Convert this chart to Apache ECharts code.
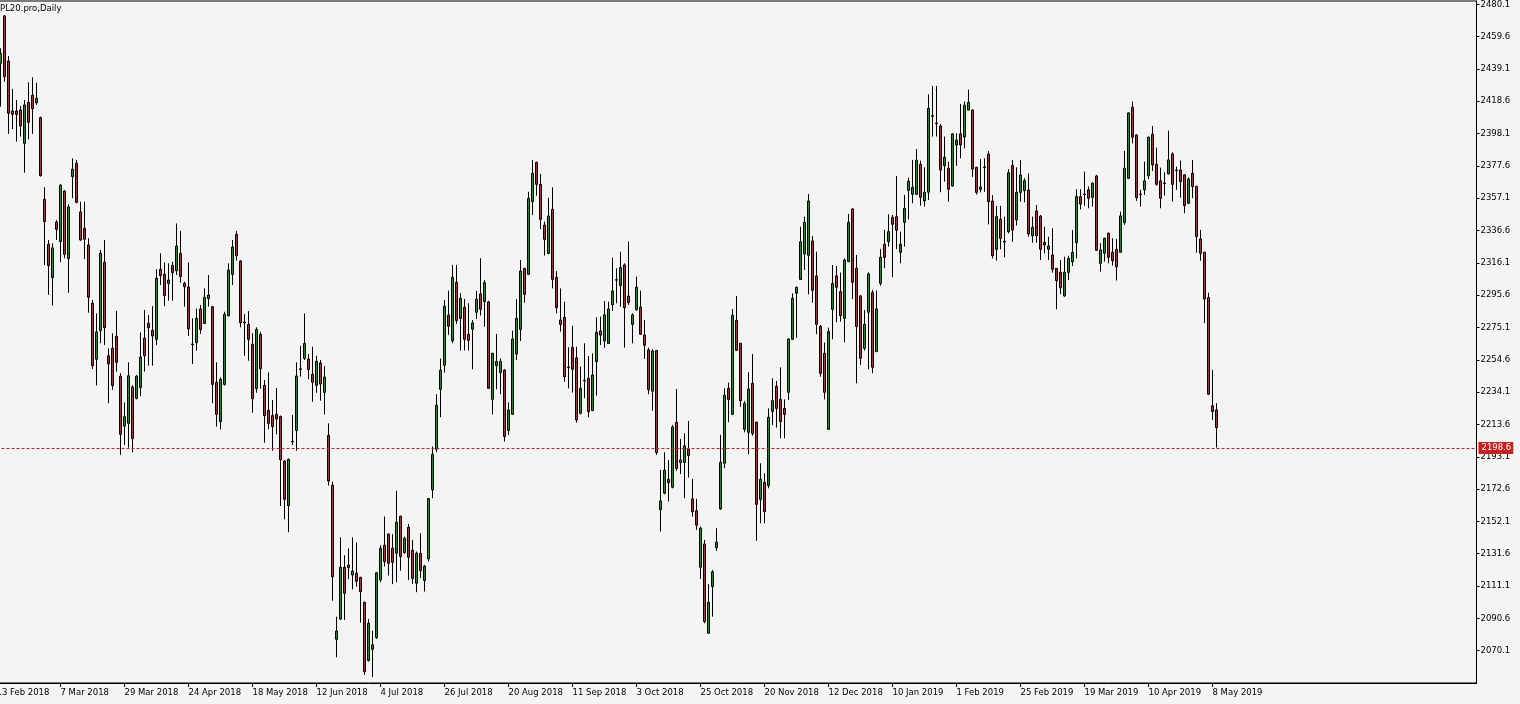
<!DOCTYPE html>
<html><head><meta charset="utf-8">
<script src="https://cdn.jsdelivr.net/npm/echarts@6/dist/echarts.min.js"></script>
<style>html,body{margin:0;padding:0;background:#f4f4f4;}#c{width:1520px;height:704px;}</style>
</head><body><div id="c"></div><script>
// ---- data ----
const symbolTitle = 'PL20.pro,Daily';
const firstDate = [2018, 1, 13];   // 13 Feb 2018 (first category, just left of the view)
const lastDate = [2019, 4, 9];     // 9 May 2019
const holidays = ['2018-03-30','2018-04-02','2018-05-01','2018-05-03','2018-05-31','2018-08-15',
  '2018-11-01','2018-11-12','2018-12-24','2018-12-25','2018-12-26','2018-12-31','2019-01-01',
  '2019-04-19','2019-04-22','2019-05-01','2019-05-03'];
const yTicks = [2070.1,2090.6,2111.1,2131.6,2152.1,2172.6,2193.1,2213.6,2234.1,2254.6,2275.1,
  2295.6,2316.1,2336.6,2357.1,2377.6,2398.1,2418.6,2439.1,2459.6,2480.1];
const lastPrice = 2198.6;

const open = [
2442.7,2472.7,2444.2,2412.4,2412.4,2413.1,2391.9,2417.9,2422.4,2417.7,
2408.2,2356.4,2327.9,2306.7,2342.0,2329.6,2361.7,2318.8,2370.8,2379.3,
2348.4,2338.0,2327.5,2290.5,2255.0,2273.1,2316.5,2257.1,2261.9,2269.5,
2244.2,2212.6,2214.3,2237.3,2230.2,2237.1,2268.4,2277.7,2273.3,2267.6,
2312.0,2308.8,2303.1,2314.5,2311.1,2322.1,2303.1,2300.8,2264.6,2265.5,
2286.8,2277.7,2293.4,2288.3,2240.3,2215.4,2239.0,2282.6,2308.8,2334.2,
2317.3,2278.6,2277.1,2264.4,2236.3,2270.7,2238.4,2222.5,2219.2,2220.0,
2218.7,2190.4,2162.1,2202.9,2209.8,2248.9,2255.5,2255.1,2245.4,2238.4,
2252.6,2233.9,2206.7,2175.0,2077.3,2090.2,2123.0,2124.4,2118.1,2119.2,
2116.6,2100.8,2063.9,2071.0,2078.4,2115.0,2137.0,2144.0,2135.1,2131.9,
2155.4,2132.3,2148.4,2133.8,2112.9,2131.9,2114.6,2128.3,2172.1,2197.9,
2235.9,2251.2,2282.9,2266.6,2303.8,2280.8,2287.9,2270.8,2274.0,2284.8,
2296.4,2291.5,2291.3,2229.5,2250.9,2246.5,2248.1,2209.7,2220.0,2258.3,
2273.9,2312.6,2308.8,2354.9,2379.8,2365.9,2340.1,2322.1,2350.0,2306.9,
2279.9,2281.5,2250.0,2262.5,2255.8,2220.7,2241.6,2242.9,2222.4,2253.4,
2272.9,2266.6,2264.9,2289.6,2305.5,2301.7,2314.8,2295.1,2277.1,2286.4,
2288.1,2270.4,2260.9,2234.7,2260.4,2159.6,2170.0,2178.8,2173.8,2215.0,
2189.4,2189.4,2197.9,2166.4,2158.8,2123.0,2137.8,2081.2,2110.8,2135.5,
2160.0,2189.0,2236.5,2220.0,2279.6,2265.1,2210.5,2208.6,2239.7,2215.0,
2166.1,2176.9,2174.8,2221.9,2237.8,2229.5,2223.8,2234.0,2267.6,2296.8,
2305.6,2321.7,2320.9,2330.0,2307.8,2275.8,2258.7,2210.5,2286.6,2307.8,
2297.8,2280.9,2316.9,2350.3,2312.7,2295.1,2261.9,2284.8,2297.2,2259.8,
2303.1,2327.9,2329.6,2345.0,2345.4,2322.8,2341.8,2362.1,2359.6,2359.6,
2378.6,2355.4,2360.9,2409.5,2404.8,2402.9,2377.8,2376.1,2364.9,2390.9,
2397.9,2396.0,2413.0,2413.0,2376.7,2362.7,2376.9,2385.1,2355.3,2324.7,
2343.7,2329.7,2335.9,2377.9,2343.3,2360.8,2361.9,2362.3,2333.3,2349.0,
2345.8,2329.1,2324.7,2321.1,2312.6,2310.1,2295.1,2310.1,2316.8,2328.9,
2358.1,2359.8,2362.4,2357.7,2371.2,2315.8,2322.2,2334.9,2322.8,2324.7,
2322.8,2341.6,2369.7,2414.8,2397.2,2359.8,2362.4,2371.4,2397.7,2378.6,
2368.1,2366.8,2372.5,2385.2,2375.0,2375.0,2371.9,2353.9,2372.9,2364.5,
2331.3,2322.8,2294.1,2225.4,2222.8];
const high = [
2452.2,2473.3,2447.3,2426.4,2419.4,2415.6,2419.4,2430.6,2433.8,2430.4,
2408.9,2364.0,2330.6,2328.5,2343.3,2366.1,2362.3,2353.3,2382.4,2381.4,
2354.9,2354.9,2331.7,2292.6,2284.1,2324.3,2330.6,2261.9,2271.4,2285.6,
2246.1,2227.6,2253.0,2238.6,2245.0,2272.0,2286.2,2283.0,2288.7,2312.0,
2322.1,2316.4,2315.8,2316.8,2341.1,2336.3,2304.1,2316.4,2280.9,2287.2,
2289.4,2299.9,2308.4,2288.7,2253.0,2243.5,2285.1,2315.8,2330.6,2336.3,
2317.9,2283.6,2285.5,2271.4,2275.2,2272.4,2241.8,2246.6,2229.1,2236.7,
2219.2,2191.0,2191.9,2219.6,2253.0,2263.5,2284.0,2258.3,2262.9,2257.2,
2254.5,2250.6,2214.3,2177.3,2091.7,2142.0,2130.6,2135.0,2142.0,2138.8,
2117.0,2101.2,2090.3,2082.7,2119.9,2137.0,2155.2,2144.6,2144.0,2171.5,
2155.8,2142.5,2150.5,2140.4,2133.0,2144.6,2124.5,2167.0,2199.6,2232.8,
2255.4,2292.6,2298.5,2314.8,2314.8,2296.8,2293.2,2290.5,2279.9,2298.3,
2319.0,2305.2,2292.1,2259.1,2271.0,2255.5,2248.6,2227.6,2273.1,2293.0,
2317.9,2313.0,2361.2,2381.3,2380.3,2372.5,2342.2,2357.4,2364.0,2310.9,
2299.9,2291.5,2262.5,2276.1,2262.9,2250.3,2265.1,2257.0,2258.7,2281.5,
2282.0,2291.9,2291.5,2319.4,2312.7,2323.2,2315.8,2329.6,2284.1,2307.4,
2298.5,2279.9,2262.3,2261.3,2260.9,2184.8,2196.0,2191.1,2213.3,2236.1,
2204.4,2208.0,2215.8,2179.1,2166.4,2148.8,2140.4,2112.3,2121.3,2147.8,
2207.0,2236.5,2240.1,2286.8,2295.1,2265.1,2228.5,2246.7,2258.3,2215.4,
2189.0,2182.6,2223.8,2242.9,2241.2,2249.8,2229.5,2268.2,2296.8,2301.0,
2339.0,2345.4,2359.8,2333.1,2323.2,2276.7,2265.5,2275.0,2314.7,2314.1,
2309.9,2319.0,2347.1,2350.7,2321.1,2295.7,2286.2,2310.1,2298.9,2298.5,
2324.9,2337.0,2346.9,2346.5,2371.2,2335.9,2359.2,2370.2,2381.4,2388.3,
2380.9,2376.7,2423.0,2428.3,2428.3,2404.2,2396.2,2380.3,2398.3,2398.3,
2416.9,2418.4,2426.0,2413.4,2377.1,2381.9,2382.4,2387.0,2359.1,2352.3,
2352.3,2345.4,2375.6,2381.3,2376.7,2381.3,2369.7,2372.8,2345.4,2352.8,
2346.4,2339.0,2332.7,2338.0,2312.6,2317.9,2320.0,2320.6,2336.9,2362.7,
2362.9,2374.0,2364.5,2367.0,2371.9,2328.5,2332.1,2335.3,2331.7,2331.3,
2348.6,2387.1,2411.6,2418.4,2397.7,2362.4,2380.3,2396.2,2402.9,2389.2,
2376.5,2373.6,2400.0,2386.2,2377.1,2381.0,2372.3,2370.4,2381.4,2365.1,
2337.0,2323.2,2297.2,2248.2,2227.1];
const low = [
2415.2,2431.0,2397.9,2401.0,2393.0,2396.2,2373.3,2394.5,2397.9,2416.3,
2370.8,2314.8,2295.8,2289.0,2330.6,2316.5,2319.0,2297.2,2357.1,2353.9,
2330.0,2318.4,2284.5,2248.8,2238.3,2265.1,2264.0,2227.0,2235.5,2247.1,
2194.3,2200.6,2198.9,2195.9,2229.5,2231.6,2247.1,2250.9,2250.9,2264.0,
2302.0,2288.7,2292.1,2292.1,2308.4,2303.5,2288.3,2269.7,2251.9,2260.4,
2271.0,2277.3,2288.3,2227.0,2212.2,2210.5,2238.2,2282.0,2302.0,2317.5,
2275.2,2257.2,2254.0,2221.1,2233.7,2236.3,2202.0,2210.5,2196.9,2207.3,
2161.9,2153.4,2145.2,2200.5,2196.9,2243.9,2254.5,2242.2,2228.0,2233.7,
2228.7,2220.0,2174.8,2101.8,2065.9,2089.6,2089.6,2115.4,2109.0,2110.7,
2087.9,2054.7,2063.2,2053.3,2077.6,2113.5,2123.5,2117.8,2112.3,2113.5,
2120.9,2131.5,2115.0,2112.3,2107.2,2116.1,2107.6,2126.6,2166.8,2196.0,
2218.2,2246.5,2270.4,2265.1,2277.4,2260.5,2260.5,2260.5,2248.6,2280.5,
2282.7,2275.6,2236.1,2220.0,2235.9,2232.7,2202.7,2206.9,2219.6,2254.5,
2266.5,2290.8,2308.4,2346.4,2358.7,2337.6,2320.7,2321.5,2299.9,2284.1,
2272.5,2240.7,2236.5,2233.8,2214.7,2220.0,2230.2,2218.1,2222.1,2231.9,
2264.0,2262.3,2264.7,2285.6,2290.5,2288.3,2262.3,2289.4,2265.1,2285.8,
2270.4,2255.2,2232.8,2222.4,2194.3,2145.7,2169.3,2164.7,2173.1,2184.1,
2182.2,2166.8,2179.9,2155.2,2146.7,2115.6,2087.5,2080.8,2091.7,2133.4,
2159.4,2185.8,2215.0,2219.6,2260.2,2224.9,2208.6,2194.7,2206.5,2139.9,
2150.9,2150.9,2173.1,2213.3,2211.6,2204.8,2204.8,2229.1,2267.2,2268.6,
2305.2,2311.6,2296.1,2290.8,2270.8,2243.9,2229.5,2210.5,2267.6,2278.4,
2278.8,2265.7,2316.5,2293.0,2239.7,2251.4,2260.4,2248.6,2246.1,2259.8,
2301.7,2312.7,2326.4,2307.0,2324.9,2315.8,2326.4,2343.7,2353.9,2359.2,
2352.4,2351.8,2356.0,2396.2,2396.2,2360.9,2367.6,2354.9,2364.5,2377.6,
2382.4,2388.7,2413.0,2370.7,2359.5,2360.8,2361.2,2340.5,2318.9,2317.5,
2324.7,2319.6,2334.8,2329.5,2339.7,2354.9,2354.5,2332.7,2328.9,2328.9,
2317.9,2322.1,2317.9,2309.9,2286.6,2296.3,2294.6,2305.2,2314.1,2318.9,
2350.0,2352.2,2350.7,2351.8,2323.7,2310.6,2316.9,2315.8,2314.4,2304.9,
2322.6,2340.2,2369.3,2391.9,2355.4,2351.8,2359.2,2369.3,2374.4,2365.1,
2350.7,2358.8,2372.3,2355.0,2362.4,2357.5,2347.6,2353.3,2357.1,2322.6,
2317.5,2277.8,2232.3,2216.5,2198.9];
const close = [
2449.0,2434.2,2411.0,2410.3,2410.3,2402.9,2416.3,2405.3,2413.9,2420.5,
2371.4,2342.3,2314.4,2325.6,2337.4,2365.3,2321.5,2351.6,2375.5,2354.5,
2330.6,2331.1,2294.3,2250.9,2272.3,2322.2,2275.0,2252.0,2238.3,2253.0,
2207.4,2218.5,2244.5,2204.6,2244.1,2256.4,2257.2,2275.0,2269.7,2306.3,
2308.0,2295.3,2305.2,2309.9,2326.8,2307.5,2301.0,2274.3,2264.2,2280.9,
2273.9,2294.2,2295.7,2239.0,2220.0,2242.2,2283.4,2311.5,2326.1,2320.6,
2278.1,2278.0,2267.6,2229.9,2273.9,2249.0,2219.2,2214.3,2212.2,2217.0,
2191.2,2166.1,2191.5,2202.5,2244.3,2248.5,2265.0,2248.5,2240.3,2253.6,
2239.2,2243.7,2177.7,2117.0,2082.6,2123.0,2106.5,2122.8,2120.6,2114.1,
2107.5,2056.8,2087.5,2073.8,2119.5,2135.1,2126.6,2125.6,2126.2,2151.6,
2129.8,2141.4,2129.4,2115.9,2131.9,2120.9,2123.7,2166.6,2194.7,2225.8,
2248.0,2288.6,2275.9,2307.0,2279.5,2293.6,2267.6,2267.0,2278.0,2293.0,
2286.7,2303.5,2236.5,2258.7,2253.6,2253.6,2205.9,2222.8,2267.8,2280.9,
2310.9,2296.1,2357.0,2372.9,2365.9,2343.7,2331.0,2345.8,2305.6,2287.7,
2277.1,2243.9,2249.6,2248.6,2216.4,2236.5,2241.2,2221.7,2245.0,2272.0,
2270.3,2283.1,2286.9,2298.3,2305.1,2313.1,2287.7,2290.9,2283.1,2300.6,
2270.8,2263.8,2235.7,2260.2,2195.8,2165.1,2184.6,2176.7,2212.0,2185.6,
2191.1,2200.0,2193.9,2158.3,2149.7,2147.8,2088.6,2100.8,2120.1,2138.9,
2189.6,2232.1,2229.5,2282.8,2260.6,2228.7,2227.0,2236.1,2207.8,2162.9,
2178.8,2158.3,2218.1,2228.7,2223.8,2215.4,2220.0,2267.8,2293.6,2300.6,
2329.5,2341.8,2355.3,2298.7,2277.1,2246.0,2234.0,2272.5,2303.1,2300.6,
2282.6,2317.9,2341.8,2303.8,2275.7,2255.6,2277.1,2309.1,2249.9,2286.9,
2319.6,2319.6,2335.9,2340.6,2336.8,2327.9,2350.7,2367.8,2364.0,2381.2,
2357.7,2360.9,2414.1,2409.1,2404.4,2375.0,2383.1,2362.8,2397.9,2394.0,
2390.9,2416.2,2417.9,2375.6,2360.8,2364.2,2376.5,2354.9,2320.6,2345.4,
2331.6,2329.3,2373.3,2336.9,2360.8,2371.8,2368.2,2334.4,2338.6,2333.3,
2324.7,2327.4,2326.8,2312.0,2304.8,2300.3,2310.1,2318.9,2322.7,2358.1,
2353.4,2359.4,2357.1,2366.6,2324.1,2324.3,2331.7,2319.6,2317.5,2313.7,
2345.9,2376.1,2411.2,2395.8,2357.5,2359.4,2368.1,2395.8,2378.2,2365.9,
2357.1,2366.4,2381.4,2365.9,2374.6,2367.6,2352.4,2369.3,2364.5,2332.8,
2322.2,2293.2,2232.8,2221.8,2211.6];

// ---- categories: trading days ----
const monthNames = ['Jan','Feb','Mar','Apr','May','Jun','Jul','Aug','Sep','Oct','Nov','Dec'];
const categories = [];
(function(){
  let t = Date.UTC(firstDate[0], firstDate[1], firstDate[2]);
  const end = Date.UTC(lastDate[0], lastDate[1], lastDate[2]);
  while (t <= end) {
    const d = new Date(t);
    const wd = d.getUTCDay();
    const iso = d.toISOString().slice(0, 10);
    if (wd !== 0 && wd !== 6 && holidays.indexOf(iso) < 0) {
      categories.push(d.getUTCDate() + ' ' + monthNames[d.getUTCMonth()] + ' ' + d.getUTCFullYear());
    }
    t += 86400000;
  }
})();
const TOTAL_SLOTS = 371;
const cats = categories.slice();
while (cats.length < TOTAL_SLOTS) cats.push('');

const candleData = [['-','-','-','-']];
for (let i = 0; i < open.length; i++) candleData.push([open[i], close[i], low[i], high[i]]);

const showEvery16 = (idx, val) => idx % 16 === 0 && val !== '';
const FONT = 'DejaVu Sans';
const FS = 8.5;
const chart = echarts.init(document.getElementById('c'), null, {renderer: 'canvas'});
chart.setOption({
  animation: false,
  backgroundColor: '#f4f4f4',
  title: {
    text: symbolTitle, left: 0, top: 4, padding: 0,
    textStyle: {fontFamily: FONT, fontSize: FS, fontWeight: 'normal', color: '#000'}
  },
  grid: {left: -3.5, right: 43.5, top: 1, bottom: 21, outerBoundsMode: 'none', containLabel: false,
    show: true, borderColor: '#000', borderWidth: 1, backgroundColor: 'transparent'},
  xAxis: {
    type: 'category', data: cats, boundaryGap: false,
    axisLine: {show: true, lineStyle: {color: '#000', width: 1}},
    axisTick: {show: true, interval: showEvery16, length: 4, lineStyle: {color: '#000'}},
    axisLabel: {interval: showEvery16, align: 'left', margin: 5, color: '#000', fontFamily: FONT, fontSize: FS},
    splitLine: {show: false}
  },
  yAxis: {
    type: 'value', position: 'right', min: 2049.6, max: 2482.2, scale: true,
    axisLine: {show: true, lineStyle: {color: '#000', width: 1}},
    axisTick: {show: true, length: 3, lineStyle: {color: '#000'}, customValues: yTicks},
    axisLabel: {customValues: yTicks, margin: 4, color: '#000', fontFamily: FONT, fontSize: FS,
      formatter: v => Number(v).toFixed(1)},
    splitLine: {show: false}
  },
  series: [{
    type: 'candlestick',
    data: candleData,
    barWidth: 2,
    itemStyle: {color: '#00a000', color0: '#d02020', borderColor: '#000', borderColor0: '#000', borderWidth: 1},
    markLine: {
      symbol: 'none', silent: true, animation: false,
      data: [{yAxis: lastPrice}],
      lineStyle: {color: '#d02020', type: [3, 2], width: 1},
      label: {show: true, position: 'end', distance: 2, formatter: () => lastPrice.toFixed(1),
        color: '#fff', backgroundColor: '#c81e1e', padding: [2, 2, 1, 3], fontFamily: FONT, fontSize: FS}
    }
  }]
});
</script></body></html>
